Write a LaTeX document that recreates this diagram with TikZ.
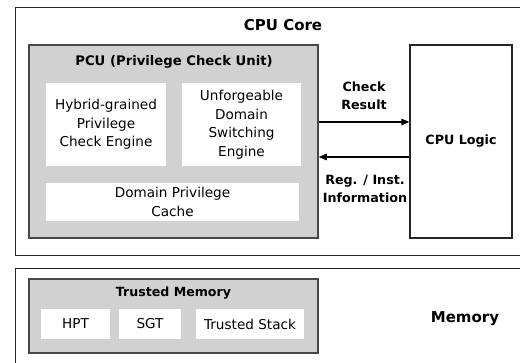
\documentclass[tikz,border=0pt]{standalone}
\usepackage{fontspec}
\setmainfont{DejaVu Sans}
\usetikzlibrary{arrows.meta}
\begin{document}
\begin{tikzpicture}[x=1bp,y=-1bp,
 outer/.style={draw=black!85, line width=1.2bp},
 greybox/.style={draw=black!72, fill=black!18, line width=1.5bp, inner sep=0pt},
 whitebox/.style={fill=white, draw=none, inner sep=0pt, align=center,
   font=\fontsize{13.6bp}{18.5bp}\selectfont},
 blbl/.style={font=\bfseries\fontsize{12.7bp}{17.5bp}\selectfont, align=center, inner sep=0pt},
 ttl/.style={font=\bfseries\fontsize{15bp}{18bp}\selectfont, inner sep=0pt},
 subttl/.style={font=\bfseries\fontsize{13.2bp}{16bp}\selectfont, inner sep=0pt},
 logicbox/.style={draw=black!85, fill=white, line width=1.2bp, inner sep=0pt},
 arr/.style={-{Triangle[length=8bp,width=6.5bp]}, line width=1.3bp}
]
\clip (0,0) rectangle (520,362);
\fill[white] (0,0) rectangle (520,362);
% outer containers
\node[outer, minimum width=525bp, minimum height=248bp, anchor=north west] (core) at (15,7) {};
\node[outer, minimum width=525bp, minimum height=120bp, anchor=north west] (mem) at (15,268) {};
\node[ttl] (coretitle) at (283,25) {CPU Core};
\node[ttl] (memtitle) at (465,319) {Memory};
% PCU
\node[greybox, minimum width=289bp, minimum height=193bp] (pcu) at (173.5,141.5) {};
\node[subttl] (pcutitle) at (174,62) {PCU (Privilege Check Unit)};
\node[whitebox, minimum width=120bp, minimum height=83bp] (hyb) at (106,124.5) {Hybrid-grained\\Privilege\\Check Engine};
\node[whitebox, minimum width=119bp, minimum height=83bp] (unf) at (241.5,124.5) {Unforgeable\\Domain\\Switching\\Engine};
\node[whitebox, minimum width=253bp, minimum height=38bp] (cache) at (172.5,202) {Domain Privilege\\Cache};
% CPU logic
\node[logicbox, minimum width=102bp, minimum height=193bp, font=\bfseries\fontsize{12.7bp}{16bp}\selectfont] (logic) at (461,141.5) {CPU Logic};
% arrows
\coordinate (ya) at (0,122);
\coordinate (yb) at (0,157);
\draw[arr] (ya -| pcu.east) -- (ya -| logic.west);
\draw[arr] (yb -| logic.west) -- (yb -| pcu.east);
\node[blbl] (chk) at (364,96) {Check\\Result};
\node[blbl] (reg) at (365,189) {Reg. / Inst.\\Information};
% Trusted memory
\node[greybox, minimum width=289bp, minimum height=74bp] (tm) at (173.5,316) {};
\node[font=\bfseries\fontsize{12.6bp}{16bp}\selectfont, inner sep=0pt] (tmtitle) at (173.5,293) {Trusted Memory};
\node[whitebox, minimum width=69bp, minimum height=30bp] (hpt) at (75.5,324) {HPT};
\node[whitebox, minimum width=62bp, minimum height=30bp] (sgt) at (150,324) {SGT};
\node[whitebox, minimum width=108bp, minimum height=30bp] (ts) at (250,324) {Trusted Stack};
\end{tikzpicture}
\end{document}
